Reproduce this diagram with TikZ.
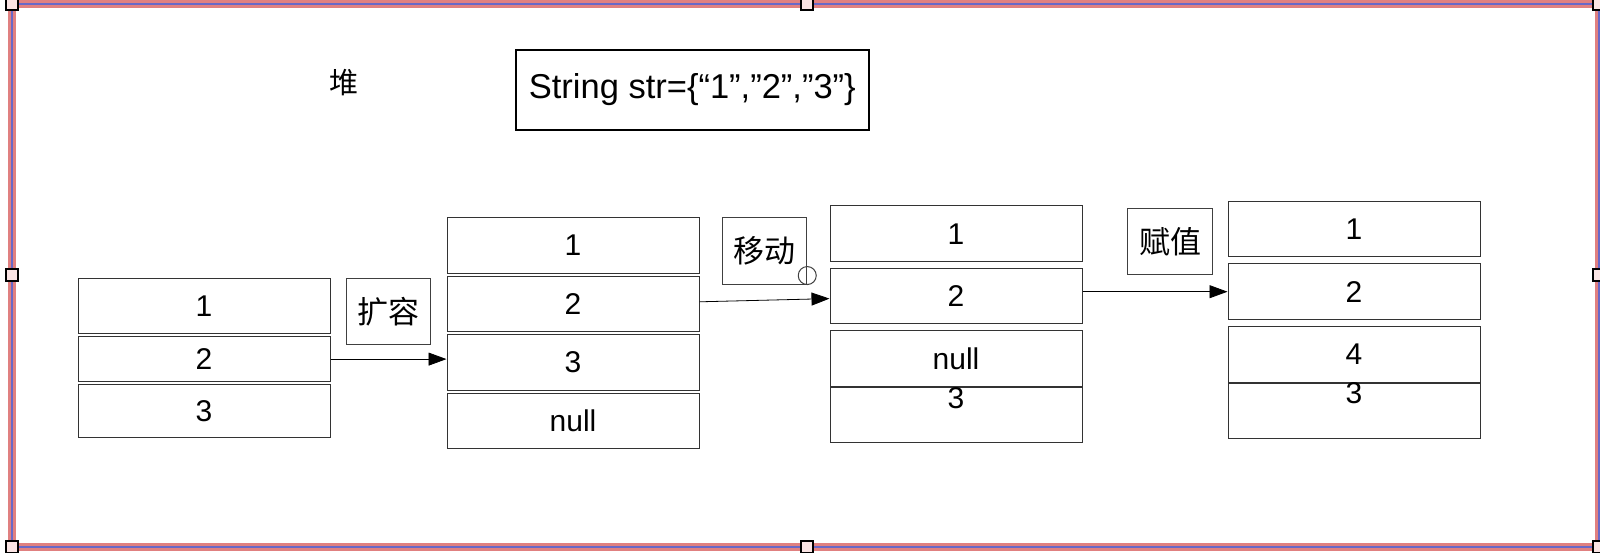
\documentclass[tikz,border=0pt]{standalone}
\usepackage{fontspec}
\setmainfont{Liberation Sans}
\newfontfamily\cjk{Noto Sans CJK SC}
\usetikzlibrary{arrows.meta, positioning, calc}
\definecolor{framered}{RGB}{224,128,128}
\definecolor{frameblue}{RGB}{104,104,200}
\definecolor{handlefill}{RGB}{250,228,228}
\tikzset{
  cellnum/.style={font=\fontsize{30}{33}\selectfont},
  cell/.style={draw=black!80, line width=1pt, rectangle, minimum width=252pt, minimum height=55.5pt, inner sep=0pt, cellnum},
  op/.style={draw=black!75, line width=1pt, rectangle, minimum width=84.5pt, minimum height=66.5pt, inner sep=0pt, font=\cjk\fontsize{31}{34}\selectfont},
  decl/.style={draw, line width=1.8pt, rectangle, minimum width=353pt, minimum height=80pt, inner sep=0pt, font=\fontsize{34.5}{38}\selectfont},
  handle/.style={draw, line width=1.5pt, fill=handlefill, minimum size=12pt, inner sep=0pt},
  copyarrow/.style={-{Triangle[length=18pt,width=13pt]}, line width=0.8pt},
}

\begin{document}
\begin{tikzpicture}[x=1pt, y=-1pt]
  \useasboundingbox (0,0) rectangle (1600,552);
  % frame
  \draw[framered, line width=8pt] (12,4) rectangle (1599,547);
  \draw[frameblue, line width=2pt] (12,4) rectangle (1599,547);
  \foreach \x/\y [count=\i] in {12/4, 807/4, 1599/4, 12/275, 1599/275, 12/547, 807/547, 1599/547}
    \node[handle] (h\i) at (\x,\y) {};

  \node[font=\cjk\fontsize{29}{32}\selectfont] (heap) at (344,83) {堆};
  \node[decl] (decl) at (692.3,90) {String str=\{“1”,”2”,”3”\}};

  % old array
  \node[cell] (a1) at (204,305.8) {1};
  \node[cell, minimum height=44.3pt, below=2.4pt of a1] (a2) {2};
  \node[cell, minimum height=53pt, below=2pt of a2] (a3) {3};

  % grown array
  \node[cell] (b1) at (573,245.6) {1};
  \node[cell, below=2pt of b1] (b2) {2};
  \node[cell, below=2pt of b2] (b3) {3};
  \node[cell, below=2pt of b3] (b4) {null};

  % shifted
  \node[cell] (c1) at (956,233.7) {1};
  \node[cell, below=6pt of c1] (c2) {2};
  \node[cell, below=5.7pt of c2] (c3) {null};
  \node[cell, below=0pt of c3, label={[cellnum, yshift=17pt]center:3}] (c4) {};

  % assigned
  \node[cell] (d1) at (1354,229.2) {1};
  \node[cell, below=6pt of d1] (d2) {2};
  \node[cell, below=6.3pt of d2] (d3) {4};
  \node[cell, below=0pt of d3, label={[cellnum, yshift=17.5pt]center:3}] (d4) {};

  \node[op] (grow) at (388.3,311.3) {扩容};
  \node[op] (mv) at (764.5,250.8) {移动};
  \node[op] (set) at (1170,241.7) {赋值};
  \node[circle, draw=black!75, line width=1pt, minimum size=18pt, inner sep=0pt] (port) at ([yshift=9pt]mv.south east) {};

  \draw[copyarrow] (a2.east) -- (a2.east -| b3.west);
  \draw[copyarrow] ([yshift=2.3pt]b2.east) -- ([yshift=-2.4pt]c2.west);
  \draw[copyarrow] (d2.west -| c2.east) -- (d2.west);
\end{tikzpicture}
\end{document}
